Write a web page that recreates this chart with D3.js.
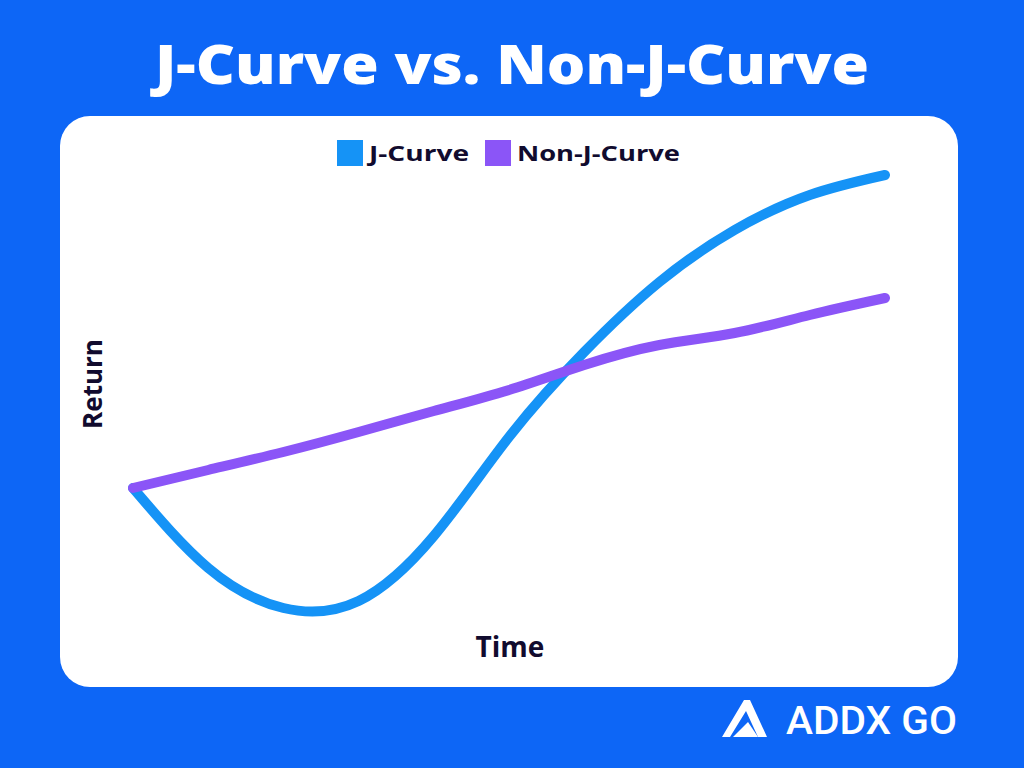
<!DOCTYPE html>
<html><head><meta charset="utf-8">
<script src="https://cdn.jsdelivr.net/npm/d3@7"></script>
<style>html,body{margin:0;padding:0;background:#0d66f6;}svg{display:block;}</style>
</head><body>
<svg id="chart" width="1024" height="768"></svg>
<script>
const title = "J-Curve vs. Non-J-Curve";
const seriesNames = ["J-Curve", "Non-J-Curve"];
const seriesColors = ["#1593f6", "#8b55f7"];
const time = [0, 1, 2, 3, 4, 5, 6, 7, 8, 9, 10];
const jCurve = [0, -0.80, -1.20, -1.13, -0.48, 0.51, 1.36, 2.06, 2.58, 2.93, 3.13];
const nonJCurve = [0, 0.18, 0.36, 0.56, 0.77, 0.98, 1.23, 1.43, 1.55, 1.73, 1.90];
const xLabel = "Time", yLabel = "Return", brand = "ADDX GO";

const svg = d3.select("#chart");
const font = "'Open Sans', 'DejaVu Sans', sans-serif";
const ink = "#110b2e";

svg.append("rect").attr("width",1024).attr("height",768).attr("fill","#0d66f6");
svg.append("text").attr("x",512).attr("y",84).attr("text-anchor","middle")
  .attr("font-family",font).attr("font-weight",800).attr("font-size",54)
  .attr("fill","#fff").attr("textLength",714).attr("lengthAdjust","spacingAndGlyphs").text(title);

svg.append("rect").attr("x",60).attr("y",116).attr("width",898).attr("height",571)
  .attr("rx",30).attr("fill","#fff");

const x = d3.scaleLinear().domain([0,10]).range([133,885]);
const y = d3.scaleLinear().domain([-1.5,3.5]).range([638,138]);

const line = d3.line().x(d=>x(d[0])).y(d=>y(d[1])).curve(d3.curveNatural);
const series = [jCurve, nonJCurve];
series.forEach((vals,i)=>{
  svg.append("path").datum(time.map((t,k)=>[t, vals[k]]))
    .attr("d", line).attr("fill","none").attr("stroke", seriesColors[i])
    .attr("stroke-width",10).attr("stroke-linecap","round").attr("stroke-linejoin","round");
});

// legend
const legend = [{x:337, tx:369, w:100}, {x:485, tx:517, w:163}];
legend.forEach((l,i)=>{
  svg.append("rect").attr("x",l.x).attr("y",140).attr("width",26).attr("height",26).attr("fill",seriesColors[i]);
  svg.append("text").attr("x",l.tx).attr("y",161).attr("font-family",font).attr("font-weight",700)
    .attr("font-size",21).attr("fill",ink).attr("textLength",l.w).attr("lengthAdjust","spacingAndGlyphs").text(seriesNames[i]);
});

svg.append("text").attr("x",510).attr("y",657).attr("text-anchor","middle").attr("font-family",font)
  .attr("font-weight",700).attr("font-size",28).attr("fill",ink).text(xLabel);
svg.append("text").attr("transform","translate(102,384) rotate(-90)").attr("text-anchor","middle")
  .attr("font-family",font).attr("font-weight",700).attr("font-size",26).attr("fill",ink).text(yLabel);

// brand logo
const g = svg.append("g");
g.append("path").attr("d","M722,737 L744,700 L750,700 L767,737 L758,737 L746,711 L730,737 Z").attr("fill","#fff");
g.append("path").attr("d","M733,737 L748,722 L758,737 Z").attr("fill","#fff");
svg.append("text").attr("x",786).attr("y",734).attr("font-family","Roboto, sans-serif").attr("font-weight",500)
  .attr("font-size",38).attr("fill","#fff").attr("textLength",171).attr("lengthAdjust","spacingAndGlyphs").text(brand);
</script>
</body></html>
